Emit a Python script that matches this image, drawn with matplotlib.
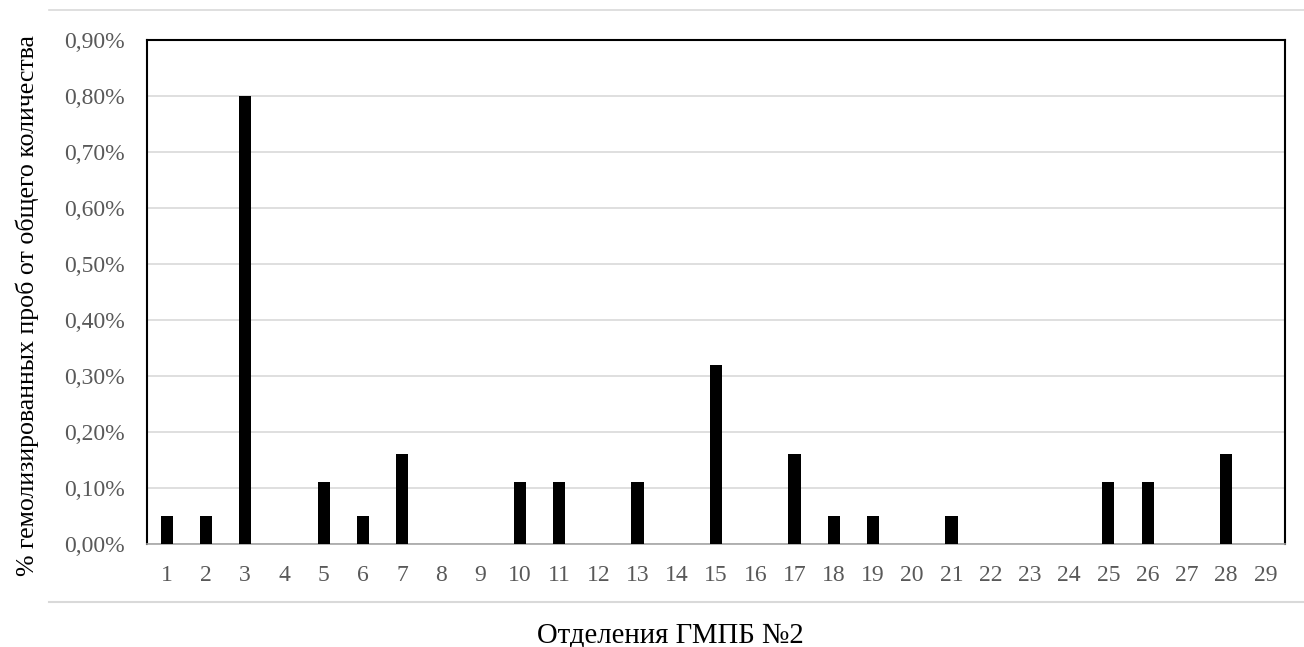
import matplotlib.pyplot as plt
from matplotlib.lines import Line2D
from matplotlib.ticker import FuncFormatter

plt.rcParams['font.family'] = ['Liberation Serif', 'DejaVu Serif']

departments = list(range(1, 30))
hemolysis_pct = [0.05, 0.05, 0.80, 0.00, 0.11, 0.05, 0.16, 0.00, 0.00, 0.11,
                 0.11, 0.00, 0.11, 0.00, 0.32, 0.00, 0.16, 0.05, 0.05, 0.00,
                 0.05, 0.00, 0.00, 0.00, 0.11, 0.11, 0.00, 0.16, 0.00]
y_ticks = [i / 10 for i in range(10)]

fig = plt.figure(figsize=(13.04, 6.47), dpi=100)
ax = fig.add_axes([147 / 1304, 1 - 544 / 647, (1285 - 147) / 1304, (544 - 40) / 647])

ax.bar(departments, hemolysis_pct, width=0.31, color='black', zorder=3)

ax.set_xlim(0.5, 29.5)
ax.set_ylim(0, 0.9)
ax.set_yticks(y_ticks)
ax.yaxis.set_major_formatter(FuncFormatter(lambda v, p: ('%.2f%%' % v).replace('.', ',')))
ax.set_xticks(departments)
ax.grid(axis='y', color='#d9d9d9', linewidth=1.2, zorder=0)
ax.tick_params(length=0, labelsize=17, labelcolor='#595959')
ax.tick_params(axis='x', pad=15)
ax.tick_params(axis='y', pad=16)

for side in ['top', 'left', 'right']:
    ax.spines[side].set_color('black')
    ax.spines[side].set_linewidth(1.5)
ax.spines['bottom'].set_color('#a6a6a6')
ax.spines['bottom'].set_linewidth(1.2)

# chart area border (top and bottom visible)
fig.add_artist(Line2D([49 / 1304, 1], [1 - 10 / 647] * 2, color='#d9d9d9', linewidth=1.2))
fig.add_artist(Line2D([49 / 1304, 1], [1 - 602 / 647] * 2, color='#d9d9d9', linewidth=1.5))

fig.text(27 / 1304, 1 - 305 / 647, '% гемолизированных проб от общего количества',
         rotation=90, ha='center', va='center', fontsize=18.6)
fig.text(670 / 1304, 1 - 636 / 647, 'Отделения ГМПБ №2', ha='center', va='center', fontsize=20.7)

fig.savefig('out.png', dpi=100)
